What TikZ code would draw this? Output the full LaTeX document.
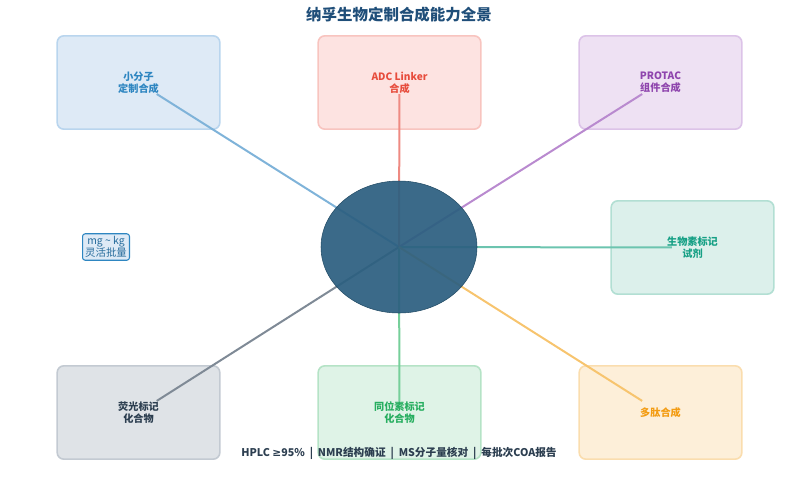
\documentclass[tikz,border=0pt]{standalone}
\usepackage{fontspec}
\setmainfont{Noto Sans CJK SC}
\newfontfamily\symfont{DejaVu Sans}
\usetikzlibrary{shapes.geometric,calc}

\definecolor{titleblue}{HTML}{1F4E79}
\definecolor{hubblue}{HTML}{2C5F80}
\definecolor{darkgrey}{HTML}{2C3E50}
% text / fill / border / line
\definecolor{smtext}{HTML}{2E86C1}\definecolor{smfill}{HTML}{DEEAF6}\definecolor{smedge}{HTML}{B9D5EE}\definecolor{smline}{HTML}{7FB3D9}
\definecolor{adtext}{HTML}{E74C3C}\definecolor{adfill}{HTML}{FDE3E1}\definecolor{adedge}{HTML}{F8C4BF}\definecolor{adline}{HTML}{EE8A82}
\definecolor{prtext}{HTML}{8E44AD}\definecolor{prfill}{HTML}{EEE1F3}\definecolor{predge}{HTML}{DCC3E8}\definecolor{prline}{HTML}{B98ACF}
\definecolor{bitext}{HTML}{16A085}\definecolor{bifill}{HTML}{DCF0EB}\definecolor{biedge}{HTML}{B2DFD3}\definecolor{biline}{HTML}{6CC4AF}
\definecolor{fltext}{HTML}{2C3E50}\definecolor{flfill}{HTML}{DFE3E7}\definecolor{fledge}{HTML}{C3CAD2}\definecolor{flline}{HTML}{7F8A96}
\definecolor{istext}{HTML}{27AE60}\definecolor{isfill}{HTML}{DFF3E7}\definecolor{isedge}{HTML}{B5E3C6}\definecolor{isline}{HTML}{76CF9A}
\definecolor{petext}{HTML}{F39C12}\definecolor{pefill}{HTML}{FDEFD9}\definecolor{peedge}{HTML}{FADDAE}\definecolor{peline}{HTML}{F7C46E}

\begin{document}
\begin{tikzpicture}[x=0.75pt,y=-0.75pt,
    capbox/.style={draw=#1edge,fill=#1fill,line width=1.2pt,rounded corners=5pt,
        minimum width=122pt,minimum height=70pt},
    caplabel/.style={text=#1text,font=\bfseries\fontsize{7.6}{9}\selectfont,align=center},
    spoke/.style={draw=#1line,line width=1.5pt},
    hub/.style={ellipse,fill=hubblue,fill opacity=0.93,draw=hubblue!80!black,
        minimum width=117pt,minimum height=99pt,inner sep=0pt}]
	\useasboundingbox (0,0) rectangle (799,476);
	% title
	\node (title) at (399,15) {\textcolor{titleblue}{\bfseries\fontsize{11.6}{14}\selectfont 纳孚生物定制合成能力全景}};
	% boxes
	\node [capbox=sm] (sm) at (138.5,82.5) {};
	\node [capbox=ad] (ad) at (399.5,82.5) {};
	\node [capbox=pr] (pr) at (660.5,82.5) {};
	\node [capbox=bi] (bi) at (692.5,247.5) {};
	\node [capbox=fl] (fl) at (138.5,412.5) {};
	\node [capbox=is] (is) at (399.5,412.5) {};
	\node [capbox=pe] (pe) at (660.5,412.5) {};
	\coordinate (c) at (399,247);
	% spokes
	\foreach \b in {sm,ad,pr,bi,fl,is,pe}
		\draw [spoke=\b] (c) -- ($(c)!0.93!(\b.center)$);
	\node [hub] (hubnode) at (c) {};
	% labels
	\node [caplabel=sm] (smtxt) at (sm.center) {小分子\\定制合成};
	\node [caplabel=ad] (adtxt) at (ad.center) {ADC Linker\\合成};
	\node [caplabel=pr] (prtxt) at (pr.center) {PROTAC\\组件合成};
	\node [caplabel=bi] (bitxt) at (bi.center) {生物素标记\\试剂};
	\node [caplabel=fl] (fltxt) at (fl.center) {荧光标记\\化合物};
	\node [caplabel=is] (istxt) at (is.center) {同位素标记\\化合物};
	\node [caplabel=pe] (petxt) at (pe.center) {多肽合成};
	% scale tag
	\node [draw=smtext,fill=smfill,line width=0.8pt,rounded corners=2pt,inner sep=2pt,
		align=center,text=smtext!80!black,font=\fontsize{7.8}{9}\selectfont] (scale) at (106,247) {mg \textasciitilde{} kg\\灵活批量};
	% footer
	\node [text=darkgrey,font=\bfseries\fontsize{8}{10}\selectfont] (footer) at (399,453)
		{HPLC {\symfont\bfseries ≥}95\%\ \ |\ \ NMR结构确证\ \ |\ \ MS分子量核对\ \ |\ \ 每批次COA报告};
\end{tikzpicture}
\end{document}
